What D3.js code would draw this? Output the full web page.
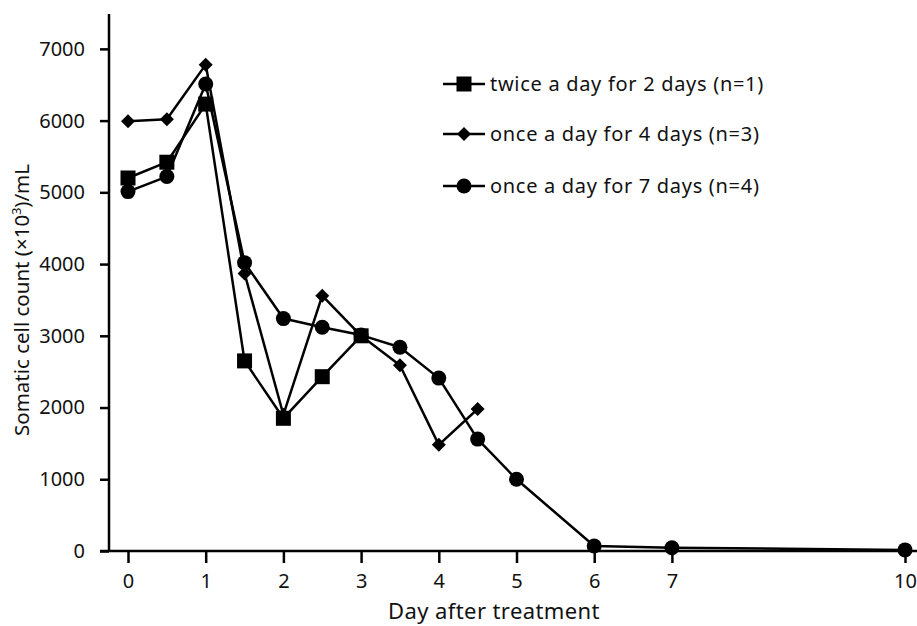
<!DOCTYPE html>
<html>
  <head>
    <title>Somatic cell count</title>
  <script src="https://d3js.org/d3.v7.min.js"></script>
  <style>
    body { margin: 0; background: #fff; }
    text { font-family: "Noto Sans", "DejaVu Sans", sans-serif; fill: #111; }
  </style>
 </head>
  <body>

<script type="text/javascript">

// days on x axis
var xTicks = [0, 1, 2, 3, 4, 5, 6, 7, 10];
var yTicks = [0, 1000, 2000, 3000, 4000, 5000, 6000, 7000];

// twice a day for 2 days (n=1)
var twiceDays   = [0, 0.5, 1, 1.5, 2, 2.5, 3];
var twiceValues = [5200, 5420, 6230, 2650, 1850, 2430, 3000];

// once a day for 4 days (n=3)
var once4Days   = [0, 0.5, 1, 1.5, 2, 2.5, 3, 3.5, 4, 4.5];
var once4Values = [5990, 6020, 6780, 3870, 1900, 3560, 3000, 2590, 1480, 1980];

// once a day for 7 days (n=4)
var once7Days   = [0, 0.5, 1, 1.5, 2, 2.5, 3, 3.5, 4, 4.5, 5, 6, 7, 10];
var once7Values = [5010, 5220, 6510, 4020, 3240, 3120, 3010, 2840, 2410, 1560, 1000, 70, 45, 15];

var seriesNames = ["twice a day for 2 days (n=1)", "once a day for 4 days (n=3)", "once a day for 7 days (n=4)"];

var width = 917, height = 626;

var svg = d3.select("body")
      .append("svg")
      .attr("width", width)
      .attr("height", height);

var x = d3.scaleLinear().domain([0, 10]).range([128, 905]);
var y = d3.scaleLinear().domain([0, 7500]).range([551, 13]);

// axes
var xAxis = svg.append("g")
    .attr("transform", "translate(0,551)")
    .call(d3.axisBottom(x).tickValues(xTicks).tickSize(12).tickSizeOuter(0).tickPadding(11));
xAxis.select(".domain").remove();
xAxis.selectAll("line").attr("stroke", "#000").attr("stroke-width", 2.5);
xAxis.selectAll("text").attr("font-size", 20).style("font-family", "'Noto Sans', sans-serif");
svg.append("line")
    .attr("x1", 100).attr("x2", 917)
    .attr("y1", 551).attr("y2", 551)
    .attr("stroke", "#000").attr("stroke-width", 2.5);

var yAxis = svg.append("g")
    .attr("transform", "translate(109,0)")
    .call(d3.axisLeft(y).tickValues(yTicks).tickFormat(d3.format("d")).tickSize(9).tickSizeOuter(0).tickPadding(15));
yAxis.select(".domain").remove();
yAxis.selectAll("line").attr("stroke", "#000").attr("stroke-width", 2.5);
yAxis.selectAll("text").attr("font-size", 20).style("font-family", "'Noto Sans', sans-serif");
svg.append("line")
    .attr("x1", 109).attr("x2", 109)
    .attr("y1", 14).attr("y2", 552)
    .attr("stroke", "#000").attr("stroke-width", 2.5);

// axis titles
svg.append("text")
    .attr("x", 494).attr("y", 619)
    .attr("text-anchor", "middle")
    .attr("font-size", 22)
    .attr("letter-spacing", 0.4)
    .text("Day after treatment");

var yl = svg.append("text")
    .attr("transform", "translate(29,300) rotate(-90)")
    .attr("text-anchor", "middle")
    .attr("font-size", 20.5);
yl.append("tspan").text("Somatic cell count (\u00d710");
yl.append("tspan").attr("font-size", 12.5).attr("dy", -8).text("3");
yl.append("tspan").attr("dy", 8).text(")/mL");

// markers
function drawMarker(g, type, cx, cy) {
  if (type === "square") {
    g.append("rect").attr("x", cx - 7.5).attr("y", cy - 7.5)
      .attr("width", 15).attr("height", 15).attr("fill", "#000");
  } else if (type === "diamond") {
    g.append("path")
      .attr("d", "M" + cx + "," + (cy - 7) + "L" + (cx + 7) + "," + cy + "L" + cx + "," + (cy + 7) + "L" + (cx - 7) + "," + cy + "Z")
      .attr("fill", "#000");
  } else {
    g.append("circle").attr("cx", cx).attr("cy", cy).attr("r", 7.5).attr("fill", "#000");
  }
}

var series = [
  {name: seriesNames[0], days: twiceDays, values: twiceValues, marker: "square"},
  {name: seriesNames[1], days: once4Days, values: once4Values, marker: "diamond"},
  {name: seriesNames[2], days: once7Days, values: once7Values, marker: "circle"}
];

var line = d3.line()
    .x(function(d) { return x(d[0]); })
    .y(function(d) { return y(d[1]); });

series.forEach(function(s) {
  var pts = s.days.map(function(d, i) { return [d, s.values[i]]; });
  var g = svg.append("g");
  g.append("path")
    .datum(pts)
    .attr("d", line)
    .attr("fill", "none")
    .attr("stroke", "#000")
    .attr("stroke-width", 2.5)
    .attr("stroke-linejoin", "round");
  pts.forEach(function(p) { drawMarker(g, s.marker, x(p[0]), y(p[1])); });
});

// legend
var legendY = [84, 134, 186];
series.forEach(function(s, i) {
  var g = svg.append("g");
  g.append("line")
    .attr("x1", 443).attr("x2", 485)
    .attr("y1", legendY[i]).attr("y2", legendY[i])
    .attr("stroke", "#000").attr("stroke-width", 2.5);
  drawMarker(g, s.marker, 464, legendY[i]);
  g.append("text")
    .attr("x", 490).attr("y", legendY[i])
    .attr("dy", "0.35em")
    .attr("font-size", 20)
    .attr("letter-spacing", 0.7)
    .text(s.name);
});

</script>

</body>
</html>
